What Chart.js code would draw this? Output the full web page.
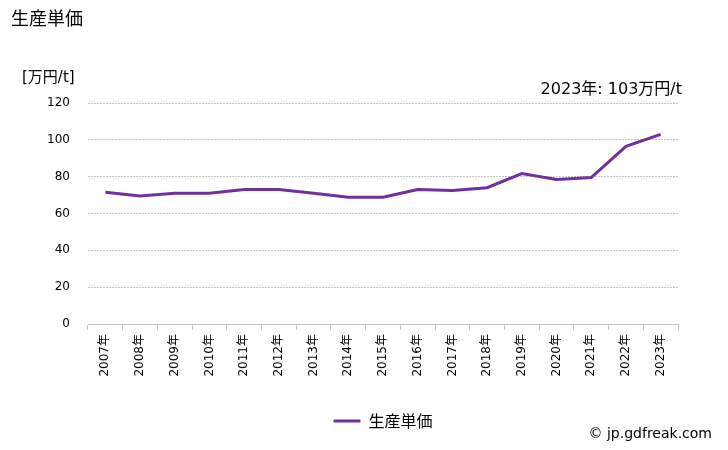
<!DOCTYPE html>
<html>
<head>
<meta charset="utf-8">
<script src="https://cdn.jsdelivr.net/npm/chart.js@4/dist/chart.umd.min.js"></script>
<style>
  html, body { margin: 0; padding: 0; background: #fff; }
  #wrap { width: 728px; height: 450px; position: relative; }
</style>
</head>
<body>
<div id="wrap"><canvas id="chart"></canvas></div>
<script>
// データ
const years = ['2007年','2008年','2009年','2010年','2011年','2012年','2013年','2014年','2015年',
               '2016年','2017年','2018年','2019年','2020年','2021年','2022年','2023年'];
const unitPrice = [71.5, 69.5, 71, 71, 73, 73, 71, 68.8, 68.8, 73, 72.5, 74, 81.7, 78.5, 79.5, 96.5, 103];
const yTicks = [0, 20, 40, 60, 80, 100, 120];

const FONT = '"DejaVu Sans", "Noto Sans CJK JP", sans-serif';
const CJK_FONT = '"Noto Sans CJK JP", sans-serif';
const LINE_COLOR = '#7030a0';
const GRID_COLOR = '#c4c4c4';

// タイトル・単位・注記・著作権表示を描く
const textPlugin = {
    id: 'texts',
    afterDraw(chart) {
        const ctx = chart.ctx;
        ctx.save();
        ctx.fillStyle = '#000';
        ctx.textBaseline = 'middle';
        ctx.textAlign = 'left';
        ctx.font = '18px ' + CJK_FONT;
        ctx.fillText('生産単価', 11, 18);
        ctx.font = '15px ' + FONT;
        ctx.fillText('[万円/t]', 22, 78);
        ctx.textAlign = 'right';
        ctx.font = '16px ' + FONT;
        ctx.fillText('2023年: 103万円/t', 682, 90);
        ctx.font = '14px ' + FONT;
        ctx.fillText('© jp.gdfreak.com', 712, 434);
        ctx.restore();
    }
};

new Chart(document.getElementById('chart'), {
    type: 'line',
    data: {
        labels: years,
        datasets: [{
            label: '生産単価',
            data: unitPrice,
            borderColor: LINE_COLOR,
            backgroundColor: LINE_COLOR,
            borderWidth: 3,
            pointRadius: 0,
            tension: 0
        }]
    },
    options: {
        responsive: true,
        maintainAspectRatio: false,
        animation: false,
        layout: { padding: { left: 0, right: 50, top: 103, bottom: 11 } },
        plugins: {
            legend: {
                position: 'bottom',
                fullSize: false,
                labels: {
                    usePointStyle: true,
                    pointStyle: 'line',
                    pointStyleWidth: 27,
                    color: '#000',
                    font: { family: CJK_FONT, size: 16 },
                    padding: 19
                }
            },
            tooltip: { enabled: false }
        },
        scales: {
            x: {
                offset: true,
                afterFit(axis) { axis.height = 70; },
                grid: {
                    offset: true,
                    drawOnChartArea: false,
                    drawTicks: true,
                    tickLength: 6,
                    color: GRID_COLOR
                },
                border: { color: GRID_COLOR, dash: [2, 1] },
                ticks: {
                    color: '#000',
                    font: { family: FONT, size: 12 },
                    minRotation: 90,
                    maxRotation: 90,
                    autoSkip: false,
                    padding: 4
                }
            },
            y: {
                min: 0,
                max: 120,
                afterFit(axis) { axis.width = 88; },
                afterBuildTicks(axis) {
                    axis.ticks = yTicks.map(v => ({ value: v }));
                },
                grid: {
                    color: GRID_COLOR,
                    drawTicks: false
                },
                border: { display: false, dash: [2, 1] },
                ticks: {
                    color: '#000',
                    font: { family: FONT, size: 12 },
                    padding: 18
                }
            }
        }
    },
    plugins: [textPlugin]
});
</script>
</body>
</html>
